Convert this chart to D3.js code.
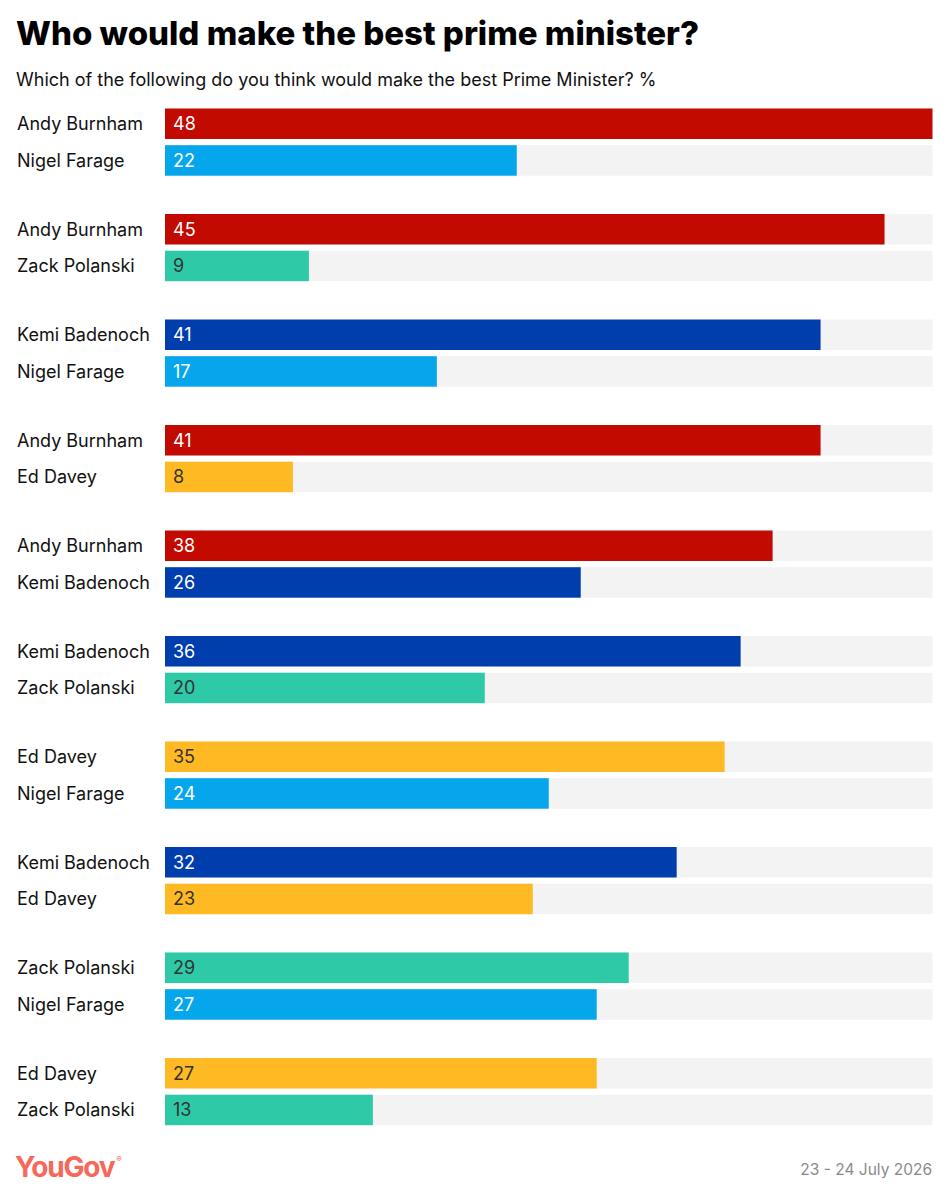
<!DOCTYPE html>
<html><head><meta charset="utf-8">
<script src="https://cdn.jsdelivr.net/npm/d3@7"></script>
<style>body{margin:0;background:#fff;} svg{display:block;font-family:Inter,"Noto Sans",sans-serif;}</style>
</head><body>
<svg id="chart" width="949" height="1200"></svg>
<script>
const names = [
  ["Andy Burnham","Nigel Farage"],
  ["Andy Burnham","Zack Polanski"],
  ["Kemi Badenoch","Nigel Farage"],
  ["Andy Burnham","Ed Davey"],
  ["Andy Burnham","Kemi Badenoch"],
  ["Kemi Badenoch","Zack Polanski"],
  ["Ed Davey","Nigel Farage"],
  ["Kemi Badenoch","Ed Davey"],
  ["Zack Polanski","Nigel Farage"],
  ["Ed Davey","Zack Polanski"]
];
const values = [
  [48,22],[45,9],[41,17],[41,8],[38,26],[36,20],[35,24],[32,23],[29,27],[27,13]
];
const partyColor = {
  "Andy Burnham":"#c20a00",
  "Nigel Farage":"#06a6ec",
  "Kemi Badenoch":"#003eae",
  "Zack Polanski":"#2ecaa8",
  "Ed Davey":"#ffb923"
};
const darkText = {"Zack Polanski":true,"Ed Davey":true};
const xMax = 48;

const svg = d3.select("#chart");
svg.append("text").attr("x",16).attr("y",45).attr("font-size",33).attr("font-weight",800)
  .attr("fill","#000").text("Who would make the best prime minister?");
svg.append("text").attr("x",16).attr("y",86).attr("font-size",18).attr("fill","#111")
  .text("Which of the following do you think would make the best Prime Minister? %");

const x = d3.scaleLinear().domain([0,xMax]).range([165,932.5]);
const gy = d3.scaleBand().domain(d3.range(names.length)).range([108.5,108.5+105.5*names.length]).paddingInner(0).paddingOuter(0);
const rows = [];
names.forEach((pair,i)=>pair.forEach((n,j)=>rows.push({g:i,j:j,name:n,value:values[i][j]})));
const barH = 30.5, rowPitch = 36.7;
const yOf = d => gy(d.g) + d.j*rowPitch;

const g = svg.append("g");
g.selectAll("rect.bg").data(rows).join("rect").attr("class","bg")
  .attr("x",x(0)).attr("y",yOf).attr("width",x(xMax)-x(0)).attr("height",barH).attr("fill","#f3f3f3");
g.selectAll("rect.bar").data(rows).join("rect").attr("class","bar")
  .attr("x",x(0)).attr("y",yOf).attr("width",d=>x(d.value)-x(0)).attr("height",barH)
  .attr("fill",d=>partyColor[d.name]);
g.selectAll("text.val").data(rows).join("text").attr("class","val")
  .attr("x",x(0)+8).attr("y",d=>yOf(d)+barH/2).attr("dy","0.36em").attr("font-size",18)
  .attr("fill",d=>darkText[d.name]?"#333":"#fff").text(d=>d.value);
g.selectAll("text.name").data(rows).join("text").attr("class","name")
  .attr("x",17).attr("y",d=>yOf(d)+barH/2).attr("dy","0.36em").attr("font-size",18)
  .attr("fill","#111").text(d=>d.name);

const logo = svg.append("text").attr("x",15).attr("y",1177).attr("font-size",28).attr("font-weight",700)
  .attr("fill","#f7675a").attr("letter-spacing",-1.2);
logo.append("tspan").text("YouGov");
logo.append("tspan").attr("font-size",8).attr("font-weight",400).attr("dx",2).attr("dy",-15).attr("letter-spacing",0).text("®");
svg.append("text").attr("x",932).attr("y",1175).attr("text-anchor","end").attr("font-size",15.5)
  .attr("fill","#8a8a8a").text("23 - 24 July 2026");
</script>
</body></html>
